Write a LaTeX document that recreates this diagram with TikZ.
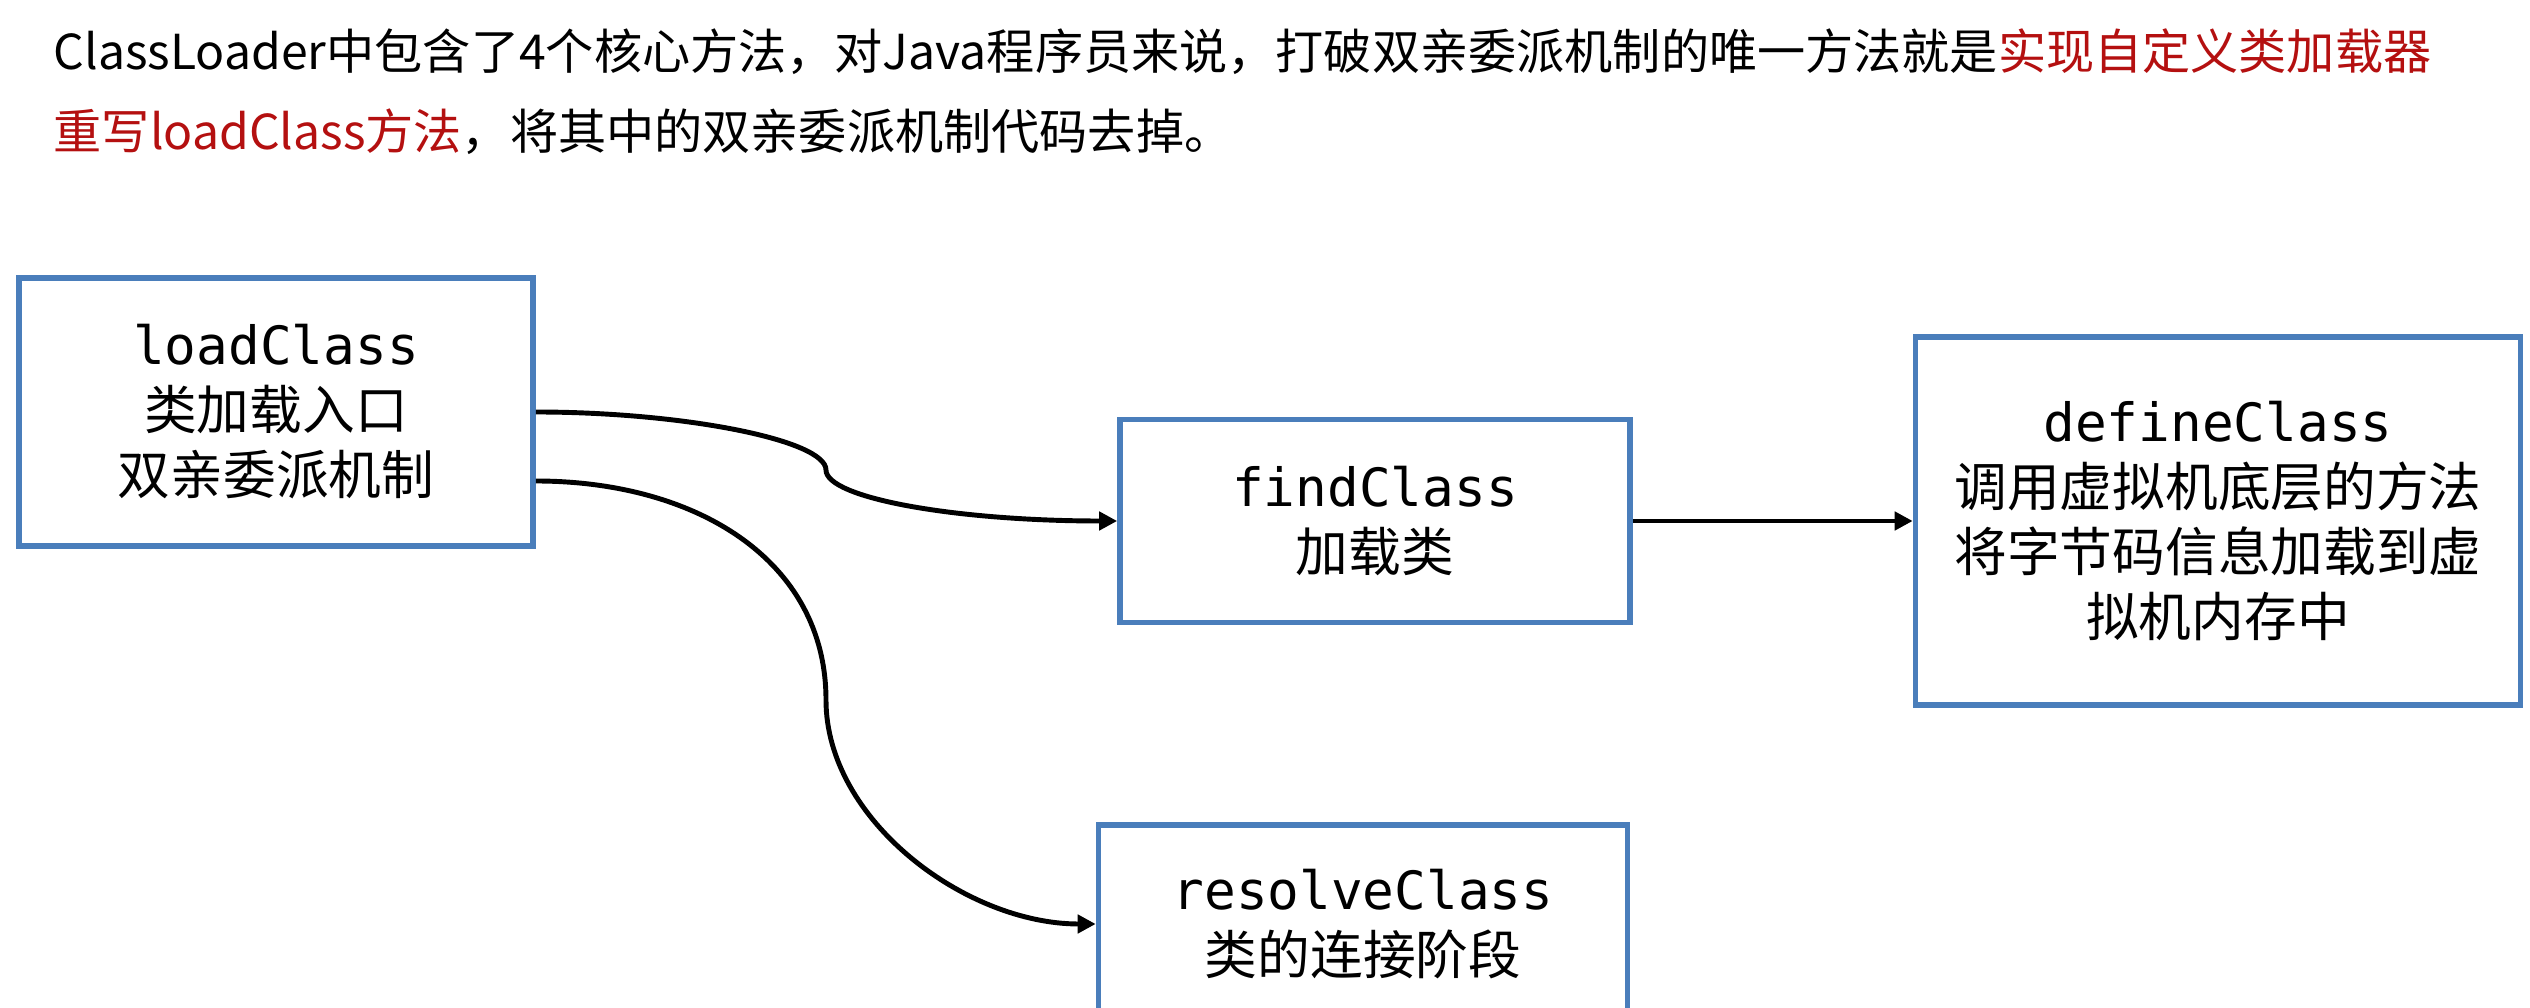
\documentclass[tikz,border=0pt]{standalone}
\usepackage{fontspec}
\setmainfont{Noto Sans CJK SC}
\setmonofont{DejaVu Sans Mono}
\usetikzlibrary{arrows.meta}
\usetikzlibrary{positioning,calc}
\definecolor{boxblue}{RGB}{74,126,187}
\definecolor{hlred}{RGB}{180,16,16}

\begin{document}
\begin{tikzpicture}[
    method/.style={draw=boxblue, line width=1.6pt, fill=white, align=center,
        inner sep=0pt, font=\fontsize{15pt}{18.5pt}\selectfont},
    call/.style={-{Triangle[length=1.8mm,width=1.8mm]}, line width=1.4pt},
    note/.style={anchor=west, inner sep=0pt, font=\fontsize{13.7pt}{16pt}\selectfont}
]
        \def\lowoff{0.69}
        \useasboundingbox (0,0) rectangle (25.3,-10.08);
        \clip (0,0) rectangle (25.3,-10.08);
        % heading text
        \node [note] (note1) at (0.53,-0.52) {ClassLoader中包含了4个核心方法，对Java程序员来说，打破双亲委派机制的唯一方法就是\textcolor{hlred}{实现自定义类加载器}};
        \node [note] (note2) at (0.53,-1.32) {\textcolor{hlred}{重写loadClass方法}，将其中的双亲委派机制代码去掉。};
        % the four methods
        \node [method, minimum width=5.14cm, minimum height=2.68cm] (load) at (2.76,-4.12)
            {\texttt{loadClass}\\类加载入口\\双亲委派机制};
        \node [method, minimum width=5.10cm, minimum height=2.03cm] (find) at (13.75,-5.21)
            {\texttt{findClass}\\加载类};
        \node [method, minimum width=6.05cm, minimum height=3.68cm] (define) at (22.18,-5.21)
            {\texttt{defineClass}\\调用虚拟机底层的方法\\将字节码信息加载到虚\\拟机内存中};
        \node [method, minimum width=5.29cm, minimum height=1.98cm] (resolve) at (13.63,-9.24)
            {\texttt{resolveClass}\\类的连接阶段};
        % connectors
        \coordinate (lo) at ($(load.east)+(0,-\lowoff)$);
        \coordinate (bend1) at (8.26,-4.70);
        \coordinate (bend2) at (8.26,-7.00);
        \draw [call] (load.east) .. controls +(1.47,0) and +(0,0.30) .. (bend1)
            .. controls +(0,-0.28) and +(-1.62,0) .. (find.west);
        \draw [call] (lo) .. controls +(1.6,0) and +(0,1.4) .. (bend2)
            .. controls +(0,-1.2) and +(-1.3,0) .. (resolve.west);
        \draw [call] (find) -- (define);
\end{tikzpicture}
\end{document}
